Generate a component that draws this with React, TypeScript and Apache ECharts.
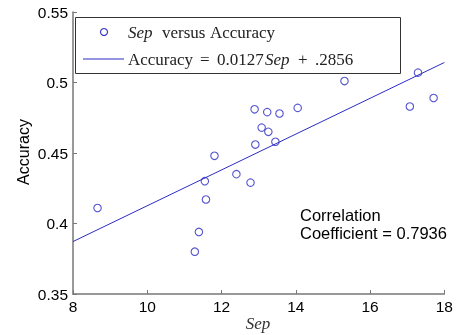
import React, { useEffect, useRef } from "react";
import * as echarts from "echarts";

const sepValues = [8.66, 11.28, 11.39, 11.58, 11.55, 11.81, 12.4, 12.78, 12.91, 12.89, 13.08, 13.26, 13.23, 13.45, 13.56, 14.05, 15.31, 17.07, 17.29, 17.71];
const accuracyValues = [0.411, 0.38, 0.394, 0.417, 0.43, 0.448, 0.435, 0.429, 0.456, 0.481, 0.468, 0.465, 0.479, 0.458, 0.478, 0.482, 0.501, 0.483, 0.507, 0.489];
const fitSlope = 0.0127;
const fitIntercept = 0.2856;
const fitRange = [8, 18];
const correlationText = "Correlation\nCoefficient = 0.7936";

const BLUE = "#2b2bc4";
const SANS = "Liberation Sans, Arial, sans-serif";
const SERIF = "Liberation Serif, Times New Roman, serif";

function seg(text: string, x: number, y: number, italic = false) {
  return {
    type: "text",
    x,
    y,
    z: 11,
    style: {
      text,
      fill: "#222",
      font: `${italic ? "italic " : ""}17px ${SERIF}`,
      verticalAlign: "middle",
    },
  };
}

export default function App() {
  const ref = useRef<HTMLDivElement>(null);
  useEffect(() => {
    if (!ref.current) return;
    const chart = echarts.init(ref.current, undefined, { renderer: "svg" });
    const points = sepValues.map((s, i) => [s, accuracyValues[i]]);
    const fit = fitRange.map((x) => [x, fitSlope * x + fitIntercept]);
    chart.setOption({
      animation: false,
      grid: { left: 73, right: 11, top: 12, bottom: 41, containLabel: false },
      xAxis: {
        type: "value",
        min: 8,
        max: 18,
        interval: 2,
        axisLine: { show: true, lineStyle: { color: "#777", width: 1.5 } },
        axisTick: { show: true, inside: true, length: 4, lineStyle: { color: "#777" } },
        axisLabel: { color: "#000", fontFamily: SANS, fontSize: 15.5, margin: 4 },
        splitLine: { show: false },
      },
      yAxis: {
        type: "value",
        min: 0.35,
        max: 0.55,
        interval: 0.05,
        axisLine: { show: true, lineStyle: { color: "#777", width: 1.5 } },
        axisTick: { show: true, inside: true, length: 4, lineStyle: { color: "#777" } },
        axisLabel: { color: "#000", fontFamily: SANS, fontSize: 15.5, margin: 5 },
        splitLine: { show: false },
      },
      series: [
        {
          type: "line",
          data: fit,
          symbol: "none",
          lineStyle: { color: BLUE, width: 1 },
          z: 2,
        },
        {
          type: "scatter",
          data: points,
          symbol: "circle",
          symbolSize: 7.5,
          itemStyle: { color: "rgba(0,0,0,0)", borderColor: BLUE, borderWidth: 1.1 },
          z: 3,
        },
      ],
      graphic: [
        {
          type: "rect",
          shape: { x: 75.5, y: 17.5, width: 325, height: 56 },
          style: { fill: "#fff", stroke: "#333", lineWidth: 1 },
          z: 10,
        },
        {
          type: "circle",
          shape: { cx: 104, cy: 32, r: 3.5 },
          style: { fill: "none", stroke: BLUE, lineWidth: 1.1 },
          z: 11,
        },
        {
          type: "line",
          shape: { x1: 83, y1: 59, x2: 124, y2: 59 },
          style: { stroke: BLUE, lineWidth: 1 },
          z: 11,
        },
        seg("Sep", 128, 32, true),
        seg("versus", 162, 32),
        seg("Accuracy", 210, 32),
        seg("Accuracy", 128, 59),
        seg("=", 200, 59),
        seg("0.0127", 217, 59),
        seg("Sep", 265, 59, true),
        seg("+", 298, 59),
        seg(".2856", 315, 59),
        {
          type: "text",
          x: 300,
          y: 224,
          z: 11,
          style: {
            text: correlationText,
            fill: "#000",
            font: `16.5px ${SANS}`,
            lineHeight: 18,
            verticalAlign: "middle",
          },
        },
        {
          type: "text",
          x: 23,
          y: 152,
          rotation: Math.PI / 2,
          z: 11,
          style: {
            text: "Accuracy",
            fill: "#000",
            font: `16px ${SANS}`,
            align: "center",
            verticalAlign: "middle",
          },
        },
        {
          type: "text",
          x: 258,
          y: 323,
          z: 11,
          style: {
            text: "Sep",
            fill: "#333",
            font: `italic 17px ${SERIF}`,
            align: "center",
            verticalAlign: "middle",
          },
        },
      ],
    });
    return () => chart.dispose();
  }, []);
  return <div ref={ref} style={{ position: "fixed", left: 0, top: 0, width: 456, height: 335 }} />;
}
